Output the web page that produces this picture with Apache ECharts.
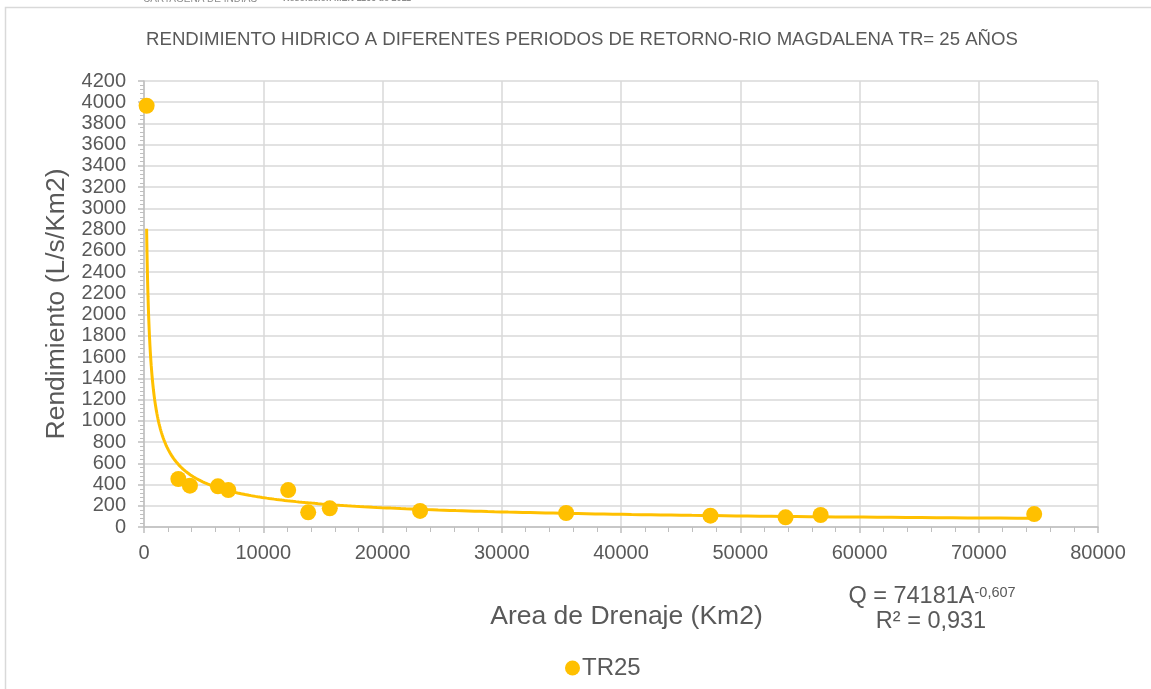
<!DOCTYPE html>
<html>
<head>
<meta charset="utf-8">
<script src="https://cdn.jsdelivr.net/npm/echarts@6/dist/echarts.min.js"></script>
<style>
  html, body { margin: 0; padding: 0; background: #fff; }
  #chart { width: 1151px; height: 689px; }
</style>
</head>
<body>
<div id="chart"></div>
<script>
// Drainage area (Km2) of each station and its specific yield (L/s/Km2), TR = 25 years
const areaKm2 = [220, 2880, 3850, 6200, 7070, 12090, 13770, 15580, 23150, 35400, 47500, 53800, 56740, 74650];
const rendimiento = [3967, 452, 389, 383, 348, 348, 138, 176, 151, 132, 107, 91, 113, 122];

// Power trend line Q = a * A^b and its fit
const trendA = 74181;
const trendB = -0.607;
const rSquared = '0,931';

const yTicks = [0, 4200, 200];
const xTicks = [0, 80000, 10000];

const seriesName = 'TR25';
const titleText = 'RENDIMIENTO HIDRICO A DIFERENTES PERIODOS DE RETORNO-RIO MAGDALENA TR= 25 AÑOS';

const gold = '#FFC000';
const textGrey = '#595959';
const gridGrey = '#D9D9D9';

// trend curve across the span of the observed areas, sampled on a log scale
const trendPts = [];
const aMin = Math.min(...areaKm2), aMax = Math.max(...areaKm2);
const nSteps = 300;
for (let i = 0; i <= nSteps; i++) {
  const a = Math.exp(Math.log(aMin) + (Math.log(aMax) - Math.log(aMin)) * i / nSteps);
  trendPts.push([a, trendA * Math.pow(a, trendB)]);
}

const chart = echarts.init(document.getElementById('chart'), null, { renderer: 'canvas' });
const font = 'Liberation Sans, Arial, sans-serif';
const plain = v => String(v);

chart.setOption({
  animation: false,
  textStyle: { fontFamily: font },
  legend: {
    data: [{ name: seriesName, icon: 'circle' }],
    left: 565,
    top: 656,
    padding: 0,
    itemWidth: 15,
    itemHeight: 15,
    textStyle: { fontSize: 24, color: textGrey, fontFamily: font, padding: [0, 0, 0, -3] }
  },
  grid: { left: 144, right: 53, top: 81, bottom: 162, containLabel: false },
  xAxis: {
    type: 'value',
    min: xTicks[0], max: xTicks[1], interval: xTicks[2],
    name: 'Area de Drenaje (Km2)',
    nameLocation: 'middle',
    nameGap: 76,
    nameTextStyle: { fontSize: 26.5, color: textGrey, fontFamily: font, padding: [0, 0, 0, 11] },
    axisLine: { show: true, lineStyle: { color: '#BFBFBF', width: 1.5 } },
    axisTick: { show: true, length: 6, lineStyle: { color: '#BFBFBF', width: 1.5 } },
    minorTick: { show: true, splitNumber: 5, length: 5, lineStyle: { color: '#BFBFBF', width: 1 } },
    axisLabel: { fontSize: 20, color: textGrey, margin: 16, fontFamily: font, formatter: plain },
    splitLine: { show: true, lineStyle: { color: gridGrey, width: 1.5 } }
  },
  yAxis: {
    type: 'value',
    min: yTicks[0], max: yTicks[1], interval: yTicks[2],
    name: 'Rendimiento (L/s/Km2)',
    nameLocation: 'middle',
    nameGap: 73,
    nameTextStyle: { fontSize: 26.5, color: textGrey, fontFamily: font },
    axisLine: { show: true, lineStyle: { color: '#BFBFBF', width: 1.5 } },
    axisTick: { show: true, length: 6, lineStyle: { color: '#BFBFBF', width: 1.5 } },
    minorTick: { show: true, splitNumber: 5, length: 4, lineStyle: { color: '#BFBFBF', width: 1 } },
    axisLabel: { fontSize: 20, color: textGrey, margin: 18, fontFamily: font, formatter: plain },
    splitLine: { show: true, lineStyle: { color: gridGrey, width: 1.5 } }
  },
  series: [
    {
      name: 'trend',
      type: 'line',
      data: trendPts,
      showSymbol: false,
      symbol: 'none',
      silent: true,
      lineStyle: { color: gold, width: 3 },
      z: 2
    },
    {
      name: seriesName,
      type: 'scatter',
      data: areaKm2.map((a, i) => [a, rendimiento[i]]),
      symbol: 'circle',
      symbolSize: 16,
      itemStyle: { color: gold, opacity: 1 },
      z: 3
    }
  ],
  graphic: [
    {
      type: 'rect',
      shape: { x: 5.5, y: 7.5, width: 1160, height: 700 },
      style: { fill: 'none', stroke: gridGrey, lineWidth: 1.5 },
      silent: true
    },
    {
      type: 'text',
      left: 143, top: -6,
      style: { text: 'CARTAGENA DE INDIAS', font: '10px ' + font, fill: '#8c8c8c' }
    },
    {
      type: 'text',
      left: 283, top: -6,
      style: { text: 'Resolución MEN 1166 de 2011', font: 'bold 9px ' + font, fill: '#8c8c8c' }
    },
    {
      type: 'text',
      x: 582, y: 40,
      style: {
        text: titleText,
        font: '18.6px ' + font,
        fill: textGrey,
        textAlign: 'center',
        textVerticalAlign: 'middle'
      }
    },
    {
      type: 'text',
      x: 932, y: 597,
      style: {
        text: '{b|Q = ' + trendA + 'A}{s|' + String(trendB).replace('.', ',') + '}',
        textAlign: 'center',
        textVerticalAlign: 'middle',
        rich: {
          b: { fontSize: 23.5, fontFamily: font, fill: textGrey, color: textGrey, verticalAlign: 'bottom' },
          s: { fontSize: 14.5, fontFamily: font, fill: textGrey, color: textGrey, verticalAlign: 'top' }
        }
      }
    },
    {
      type: 'text',
      x: 931, y: 622,
      style: {
        text: 'R² = ' + rSquared,
        font: '23.5px ' + font,
        fill: textGrey,
        textAlign: 'center',
        textVerticalAlign: 'middle'
      }
    }
  ]
});
</script>
</body>
</html>
